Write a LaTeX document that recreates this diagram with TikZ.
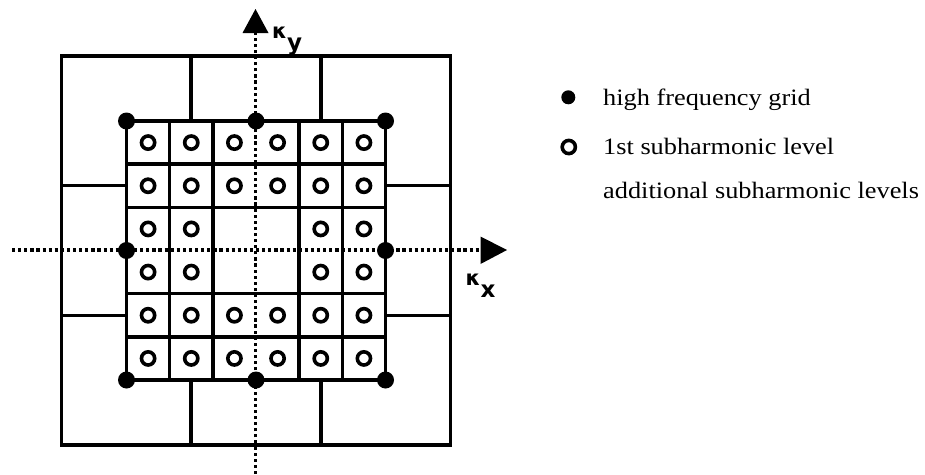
\documentclass[tikz,border=0pt]{standalone}
\usepackage{fontspec}
\setmainfont{Liberation Serif}
\newfontfamily\legfont[FakeStretch=1.12]{Liberation Serif}
\newfontfamily\axfont{DejaVu Sans}
\begin{document}
\begin{tikzpicture}[x=1pt,y=-1pt,
  gridline/.style={line width=3.4pt,line cap=rect},
  axisline/.style={line width=3.2pt,dash pattern=on 3.2pt off 2.9pt},
  bigdot/.style={circle,fill=black,inner sep=0pt,minimum size=17pt},
  subdot/.style={circle,draw=black,line width=3.6pt,inner sep=0pt,minimum size=13.2pt},
  legdot/.style={circle,fill=black,inner sep=0pt,minimum size=14pt},
  legtext/.style={anchor=base west,inner sep=0pt,font=\legfont\fontsize{23.5}{28}\selectfont},
  axlab/.style={anchor=base west,inner sep=0pt,font=\axfont\bfseries\fontsize{21}{24}\selectfont},
  axsub/.style={anchor=base west,inner sep=0pt,font=\axfont\bfseries\fontsize{23}{28}\selectfont}]
\useasboundingbox (0,0) rectangle (925,474);
\def\cx{256}
\def\cy{250.5}
\def\ih{129.5}
\def\c{43.1667}
\def\oh{194.5}
\def\oc{64.83}
% outer square
\draw[gridline] (\cx-\oh,\cy-\oh) rectangle (\cx+\oh,\cy+\oh);
\foreach \s in {-1,1}{
  \draw[gridline] (\cx+\s*\oc,\cy-\oh) -- (\cx+\s*\oc,\cy-\ih);
  \draw[gridline] (\cx+\s*\oc,\cy+\ih) -- (\cx+\s*\oc,\cy+\oh);
  \draw[gridline] (\cx-\oh,\cy+\s*\oc) -- (\cx-\ih,\cy+\s*\oc);
  \draw[gridline] (\cx+\ih,\cy+\s*\oc) -- (\cx+\oh,\cy+\s*\oc);
}
% inner square
\draw[gridline] (\cx-\ih,\cy-\ih) rectangle (\cx+\ih,\cy+\ih);
\foreach \k in {-2,-1,1,2}{
  \draw[gridline] (\cx+\k*\c,\cy-\ih) -- (\cx+\k*\c,\cy+\ih);
  \draw[gridline] (\cx-\ih,\cy+\k*\c) -- (\cx+\ih,\cy+\k*\c);
}
% subharmonic circles
\foreach \i in {-2.5,-1.5,-0.5,0.5,1.5,2.5}{
  \foreach \j in {-2.5,-1.5,-0.5,0.5,1.5,2.5}{
    \pgfmathsetmacro\ok{(abs(\i)>1 || abs(\j)>1) ? 1 : 0}
    \ifdim\ok pt>0.5pt
      \node[subdot] at (\cx+\i*\c,\cy+\j*\c) {};
    \fi
  }
}
% axes
\coordinate (ybot) at (255.5,474);
\coordinate (ytop) at (255.5,33);
\coordinate (xleft) at (12,250);
\coordinate (xright) at (481,250);
\draw[axisline] (ybot) -- (ytop);
\draw[axisline] (xleft) -- (xright);
\fill (242.5,33) -- (268.5,33) -- (255.5,9) -- cycle;
\fill (480.5,236.5) -- (480.5,264) -- (507,250) -- cycle;
% high frequency points
\foreach \p/\q [count=\n] in {-1/-1,0/-1,1/-1,-1/0,1/0,-1/1,0/1,1/1}{
  \node[bigdot] (hf\n) at (\cx+\p*\ih,\cy+\q*\ih) {};
}
% axis labels
\node[axlab] (ky) at (272,38.5) {κ};
\node[axsub] (kyy) at (287,50) {y};
\node[axlab] (kx) at (465.5,285.5) {κ};
\node[axsub] (kxx) at (480.5,297) {x};
% legend
\node[legdot] (l1) at (568.3,97.3) {};
\node[subdot] (l2) at (568.8,147) {};
\node[legtext] (t1) at (603,105) {high frequency grid};
\node[legtext] (t2) at (603,154) {1st subharmonic level};
\node[legtext] (t3) at (603,198) {additional subharmonic levels};
\end{tikzpicture}
\end{document}
